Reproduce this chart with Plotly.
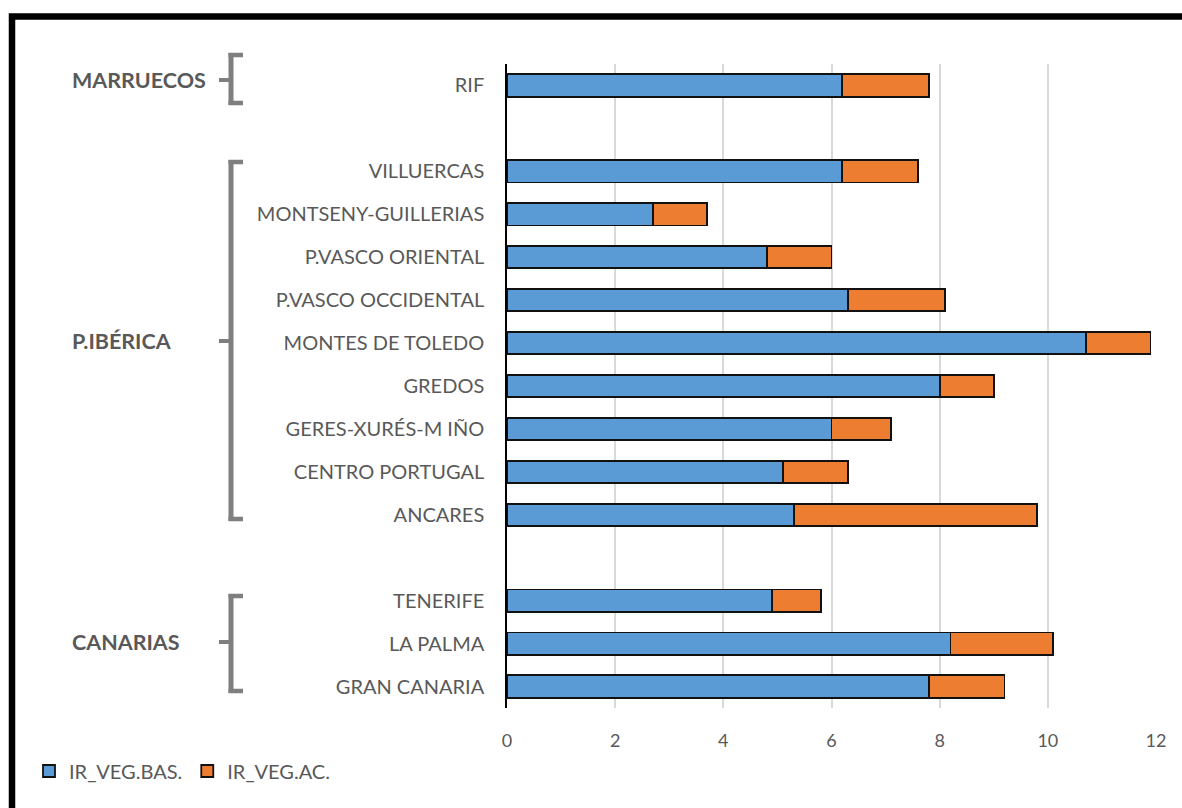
import plotly.graph_objects as go

# Sites, bottom row first; blank entries are spacer rows between regions
sites = ["GRAN CANARIA", "LA PALMA", "TENERIFE", " ",
         "ANCARES", "CENTRO PORTUGAL", "GERES-XURÉS-M IÑO", "GREDOS",
         "MONTES DE TOLEDO", "P.VASCO OCCIDENTAL", "P.VASCO ORIENTAL",
         "MONTSENY-GUILLERIAS", "VILLUERCAS", "  ", "RIF"]

bar_sites = ["GRAN CANARIA", "LA PALMA", "TENERIFE",
             "ANCARES", "CENTRO PORTUGAL", "GERES-XURÉS-M IÑO", "GREDOS",
             "MONTES DE TOLEDO", "P.VASCO OCCIDENTAL", "P.VASCO ORIENTAL",
             "MONTSENY-GUILLERIAS", "VILLUERCAS", "RIF"]
ir_veg_bas = [7.8, 8.2, 4.9, 5.3, 5.1, 6.0, 8.0, 10.7, 6.3, 4.8, 2.7, 6.2, 6.2]
ir_veg_ac = [1.4, 1.9, 0.9, 4.5, 1.2, 1.1, 1.0, 1.2, 1.8, 1.2, 1.0, 1.4, 1.6]

x_ticks = [0, 2, 4, 6, 8, 10, 12]

# Region labels with their bracket extents (pixel rows of the page)
regions = ["MARRUECOS", "P.IBÉRICA", "CANARIAS"]
region_label_y = [80, 341, 642]
region_bracket_top = [53, 160, 594]
region_bracket_bottom = [105, 521, 693]

W, H = 1182, 808
ML, MR, MT, MB = 507, 26, 64, 100
PW, PH = W - ML - MR, H - MT - MB

GRAY = "#595959"
FONT = "Lato"


def px_x(px):
    return (px - ML) / PW


def px_y(py):
    return (H - MB - py) / PH


fig = go.Figure()
fig.add_trace(go.Bar(
    y=bar_sites, x=ir_veg_bas, orientation="h", name="IR_VEG.BAS.",
    marker=dict(color="#5B9BD5", line=dict(color="#111111", width=1.8)),
    width=0.52,
))
fig.add_trace(go.Bar(
    y=bar_sites, x=ir_veg_ac, orientation="h", name="IR_VEG.AC.",
    marker=dict(color="#ED7D31", line=dict(color="#111111", width=1.8)),
    width=0.52,
))

shapes = []
# outer frame
shapes.append(dict(type="rect", xref="paper", yref="paper",
                   x0=px_x(12), x1=px_x(1230), y0=px_y(860), y1=px_y(16.5),
                   line=dict(color="black", width=6.5), fillcolor="rgba(0,0,0,0)",
                   layer="above"))

annotations = []
BR_COLOR = "#7f7f7f"
for name, ly, top, bot in zip(regions, region_label_y, region_bracket_top, region_bracket_bottom):
    xv = 231
    shapes.append(dict(type="line", xref="paper", yref="paper",
                       x0=px_x(xv), x1=px_x(xv), y0=px_y(top), y1=px_y(bot),
                       line=dict(color=BR_COLOR, width=5)))
    for yy in (top + 2, bot - 2):
        shapes.append(dict(type="line", xref="paper", yref="paper",
                           x0=px_x(xv - 2.5), x1=px_x(243), y0=px_y(yy), y1=px_y(yy),
                           line=dict(color=BR_COLOR, width=4.5)))
    shapes.append(dict(type="line", xref="paper", yref="paper",
                       x0=px_x(219), x1=px_x(xv), y0=px_y(ly), y1=px_y(ly),
                       line=dict(color=BR_COLOR, width=4)))
    annotations.append(dict(text="<b>" + name + "</b>", xref="paper", yref="paper",
                            x=px_x(70), y=px_y(ly), xanchor="left", yanchor="middle",
                            showarrow=False, font=dict(family=FONT, size=21.5, color=GRAY)))

fig.update_layout(
    width=W, height=H,
    margin=dict(l=ML, r=MR, t=MT, b=MB),
    paper_bgcolor="white", plot_bgcolor="white",
    barmode="stack",
    shapes=shapes,
    annotations=annotations,
    showlegend=True,
    legend=dict(orientation="h", x=px_x(29), y=px_y(771), xanchor="left", yanchor="middle",
                font=dict(family=FONT, size=20, color=GRAY), traceorder="normal",
                itemwidth=30, tracegroupgap=0),
    font=dict(family=FONT, color=GRAY),
)
fig.update_xaxes(range=[0, 12], tickvals=x_ticks, showgrid=True, gridcolor="#d9d9d9",
                 gridwidth=1.5, zeroline=False, showline=False,
                 tickfont=dict(family=FONT, size=18, color=GRAY), ticklabelstandoff=20)
fig.update_yaxes(categoryorder="array", categoryarray=sites, range=[-0.5, 14.5],
                 tickmode="array", tickvals=sites, ticktext=sites,
                 showline=True, linecolor="black", linewidth=1.5, showgrid=False,
                 tickfont=dict(family=FONT, size=20, color=GRAY), ticklabelstandoff=17)

fig.write_html("out.html")
